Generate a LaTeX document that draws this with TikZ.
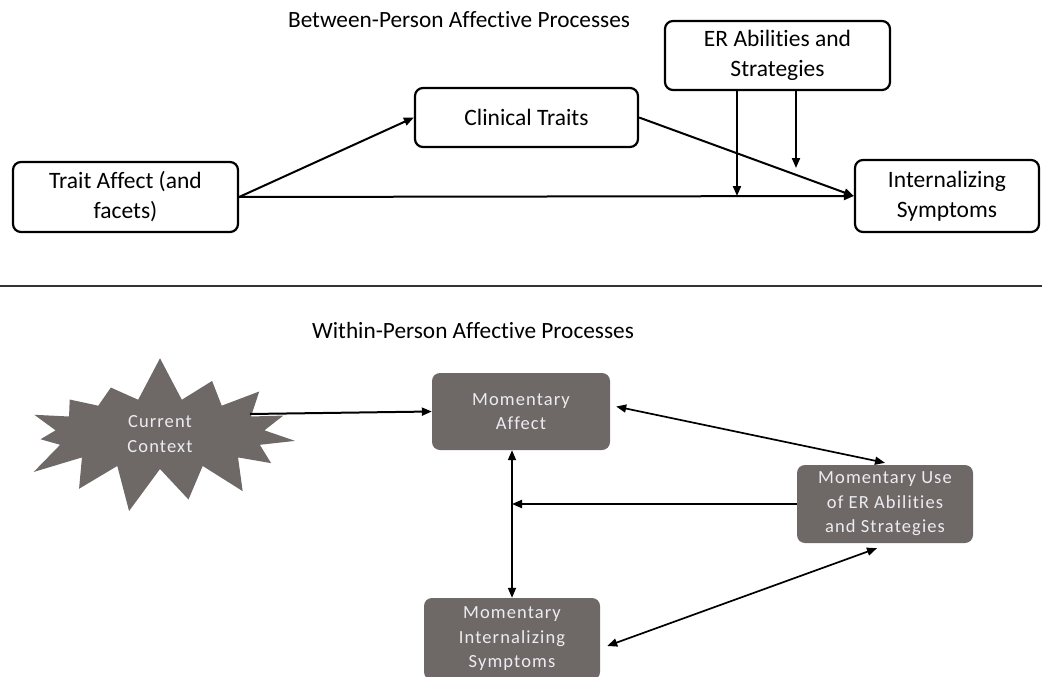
\documentclass[tikz,border=0pt]{standalone}
\usepackage{fontspec}
\setmainfont[Ligatures=NoCommon]{Carlito}
\newfontfamily\spacedfont[LetterSpace=6,Ligatures=NoCommon]{Carlito}
\usetikzlibrary{arrows.meta,shapes.symbols}

\definecolor{momgray}{RGB}{110,105,103}
\definecolor{momtext}{RGB}{236,236,242}

\begin{document}
\begin{tikzpicture}[x=1pt, y=-1pt,
    >={Triangle[length=10pt,width=8pt]},
    tbox/.style={draw, line width=2.2pt, rounded corners=8pt, inner sep=0pt,
                 align=center, font=\fontsize{23.5}{30}\selectfont},
    mbox/.style={fill=momgray, rounded corners=8pt, inner sep=0pt, text=momtext,
                 align=center, font=\spacedfont\fontsize{18.5}{24.5}\selectfont},
    link/.style={line width=2pt, ->},
    dlink/.style={line width=1.7pt, <->}]

  \useasboundingbox (0,0) rectangle (1042,677);

  % --- Between-person part ---
  \node[font=\fontsize{23.3}{28}\selectfont] (ttop) at (459,20) {Between-Person Affective Processes};

  \node[tbox, minimum width=225pt, minimum height=70pt] (trait) at (125.5,197) {Trait Affect (and\\facets)};
  \node[tbox, minimum width=223pt, minimum height=59pt] (clin)  at (526.5,117.5) {Clinical Traits};
  \node[tbox, minimum width=225pt, minimum height=69pt] (er)    at (777.5,55.5) {ER Abilities and\\Strategies};
  \node[tbox, minimum width=184pt, minimum height=72pt] (intern) at (947,196) {Internalizing\\Symptoms};

  \draw[link] (trait.east) -- (clin.west);
  \draw[link] (trait.east) -- (intern.west);
  \draw[link] (clin.east) -- (intern.west);

  % moderation arrows
  \coordinate (m1) at (737,196);
  \coordinate (m2) at (796,168);
  \draw[link] (er.south -| m1) -- (m1);
  \draw[link] (er.south -| m2) -- (m2);

  % separator
  \draw[line width=2pt, black!80] (0,286) -- (1042,286);

  % --- Within-person part ---
  \node[font=\fontsize{23.3}{28}\selectfont] (btop) at (473,330) {Within-Person Affective Processes};

  \node[starburst, starburst points=15, starburst point height=45pt, random starburst=7,
        fill=momgray, minimum width=300pt, minimum height=160pt, text=momtext, align=center,
        font=\spacedfont\fontsize{18.5}{25}\selectfont] (ctx) at (160,434) {Current\\Context};

  \node[mbox, minimum width=178pt, minimum height=77pt] (aff) at (521,411.5) {Momentary\\Affect};
  \node[mbox, minimum width=176pt, minimum height=78pt] (use) at (885,504) {Momentary Use\\of ER Abilities\\and Strategies};
  \node[mbox, minimum width=176pt, minimum height=82pt] (mint) at (512,639) {Momentary\\Internalizing\\Symptoms};

  \draw[link] ([xshift=90pt,yshift=20pt]ctx.center) -- (aff.west);
  \draw[dlink] ([xshift=6pt,yshift=5pt]aff.east) -- ([yshift=2pt]use.north);
  \draw[dlink] (aff.south -| mint.north) -- (mint.north);
  \draw[link] (use.west) -- (use.west -| mint.north);
  \draw[dlink] ([xshift=-8pt,yshift=-5pt]use.south) -- ([xshift=7pt,yshift=-7pt]mint.east);

\end{tikzpicture}
\end{document}
